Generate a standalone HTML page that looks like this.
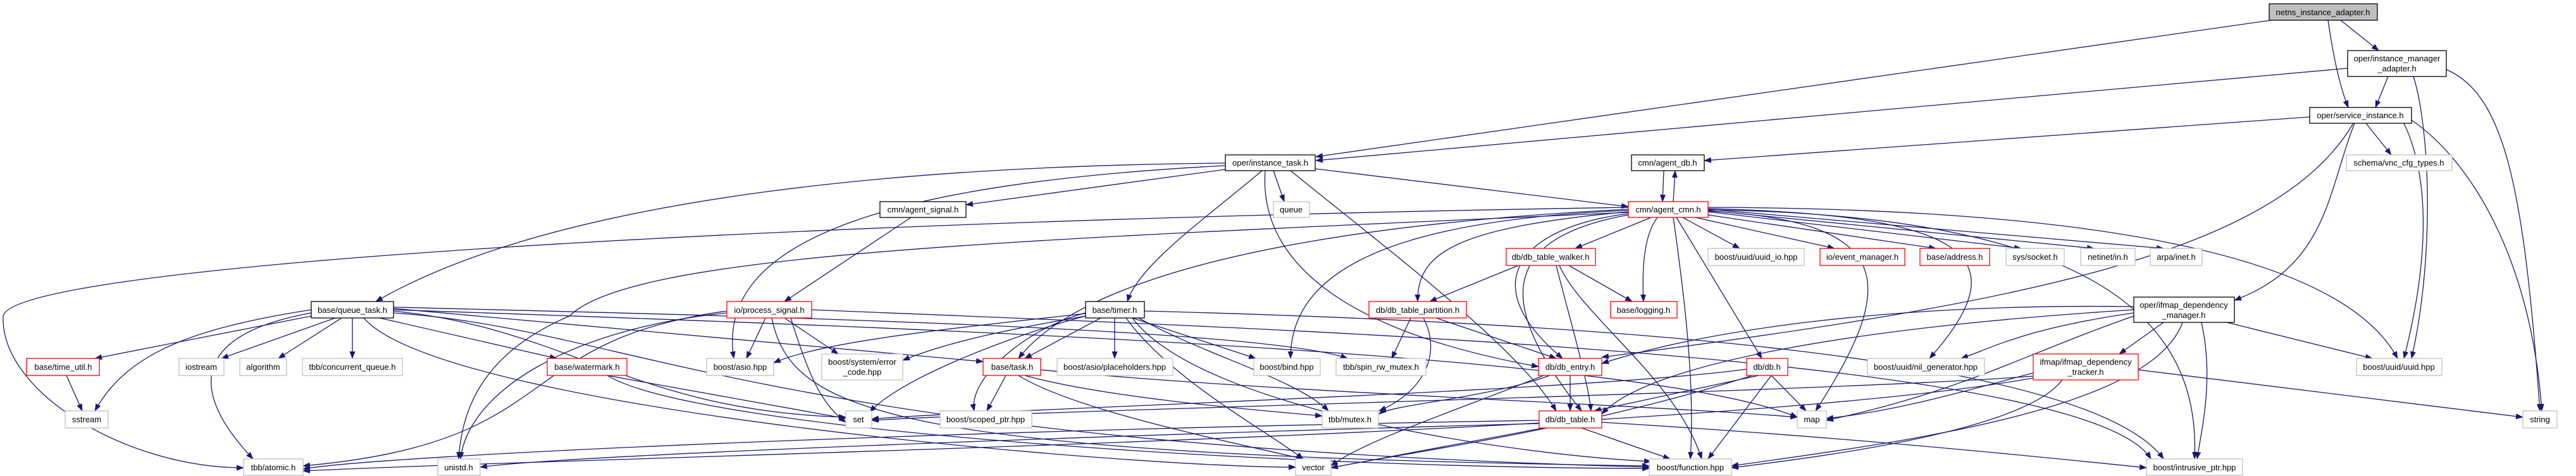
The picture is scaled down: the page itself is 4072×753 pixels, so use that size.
<!DOCTYPE html>
<html><head><meta charset="utf-8"><style>
html,body{margin:0;padding:0;background:#fff;}
svg{display:block;}
text{font-family:"Liberation Sans",Arial,sans-serif;font-size:13px;fill:#000;}
.e{fill:none;stroke:#191970;stroke-width:1.3;marker-end:url(#a);}
.g{fill:#fff;stroke:#bfbfbf;stroke-width:1.3;}
.r{fill:#fff;stroke:#ff0000;stroke-width:1.3;}
.k{fill:#fff;stroke:#000;stroke-width:1.3;}
</style></head><body>
<svg width="4072" height="753" viewBox="0 0 4072 753" xmlns="http://www.w3.org/2000/svg">
<defs><marker id="a" markerWidth="12" markerHeight="9" refX="11" refY="4.5" orient="auto" markerUnits="userSpaceOnUse"><path d="M0 0 L12 4.5 L0 9 Z" fill="#191970"/></marker></defs>
<g>
<path class="e" d="M3590 32 L2080 248"/>
<path class="e" d="M3700 32 L3760 80"/>
<path class="e" d="M3680 32 C3690 100,3700 140,3712 170"/>
<path class="e" d="M3711 108 L2080 254"/>
<path class="e" d="M3775 121 L3755 170"/>
<path class="e" d="M3815 121 C3840 200,3850 400,3812 567"/>
<path class="e" d="M3867 110 C3960 150,3990 300,4015 650"/>
<path class="e" d="M3651 185 L2694 254"/>
<path class="e" d="M3740 195 L3780 245"/>
<path class="e" d="M3722 195 C3680 300,3680 420,3532 475"/>
<path class="e" d="M3720 195 C3600 400,3200 480,2532 565"/>
<path class="e" d="M3800 195 C3850 300,3830 450,3800 567"/>
<path class="e" d="M3812 190 C3900 250,4000 400,4018 650"/>
<path class="e" d="M1937 258 C1500 262,900 300,594 477"/>
<path class="e" d="M1937 268 L1527 324"/>
<path class="e" d="M2013 270 L2030 319"/>
<path class="e" d="M1995 270 C1900 350,1800 420,1782 477"/>
<path class="e" d="M2079 267 L2574 327"/>
<path class="e" d="M1937 262 C1400 290,1130 380,1160 567"/>
<path class="e" d="M2000 270 C1990 400,2100 520,2432 580"/>
<path class="e" d="M2040 270 C2200 400,2400 550,2460 650"/>
<path class="e" d="M1440 344 L1240 477"/>
<path class="e" d="M2630 270 L2628 319"/>
<path class="e" d="M2645 319 L2648 270"/>
<path class="e" d="M2610 344 L2490 393"/>
<path class="e" d="M2660 344 L2750 393"/>
<path class="e" d="M2680 344 L2900 393"/>
<path class="e" d="M2700 340 L3060 393"/>
<path class="e" d="M2700 335 L3195 393"/>
<path class="e" d="M2700 333 L3310 393"/>
<path class="e" d="M2700 331 L3420 393"/>
<path class="e" d="M2620 344 C2600 370,2595 420,2598 477"/>
<path class="e" d="M2574 335 C2300 360,2240 400,2241 477"/>
<path class="e" d="M2574 338 C2400 360,2330 450,2470 567"/>
<path class="e" d="M2650 344 L2785 567"/>
<path class="e" d="M2574 340 C2350 380,2380 500,2500 650"/>
<path class="e" d="M2645 344 C2660 450,2680 600,2672 726"/>
<path class="e" d="M2574 333 C2150 350,2040 450,2040 567"/>
<path class="e" d="M2574 331 C2000 360,1700 450,1610 567"/>
<path class="e" d="M2574 328 C1200 350,20 420,5 500 C0 620,200 740,385 740"/>
<path class="e" d="M2574 336 C1600 380,1000 400,900 500 C760 560,730 650,725 726"/>
<path class="e" d="M2700 328 C3300 330,3700 400,3790 567"/>
<path class="e" d="M2700 332 C3300 340,3480 500,3469 726"/>
<path class="e" d="M2700 330 C3100 340,3200 400,3050 567"/>
<path class="e" d="M2700 334 C3000 350,3000 450,2870 650"/>
<path class="e" d="M492 500 L150 567"/>
<path class="e" d="M492 490 C300 520,200 560,150 650"/>
<path class="e" d="M530 503 L350 567"/>
<path class="e" d="M540 503 L440 567"/>
<path class="e" d="M557 503 L557 567"/>
<path class="e" d="M600 503 L880 567"/>
<path class="e" d="M492 495 C300 530,300 620,400 726"/>
<path class="e" d="M575 503 C700 650,1800 740,2048 739"/>
<path class="e" d="M622 495 C1000 520,1200 700,2607 739"/>
<path class="e" d="M622 492 C900 520,1000 650,1337 660"/>
<path class="e" d="M622 490 C1500 520,2600 560,2841 660"/>
<path class="e" d="M622 488 L1554 572"/>
<path class="e" d="M622 486 C1200 500,2000 520,2130 567"/>
<path class="e" d="M960 594 L1337 662"/>
<path class="e" d="M960 594 C1100 680,2000 740,2607 741"/>
<path class="e" d="M105 594 L130 650"/>
<path class="e" d="M1210 503 L1180 567"/>
<path class="e" d="M1240 503 L1325 560"/>
<path class="e" d="M1149 495 C900 520,740 620,728 726"/>
<path class="e" d="M1149 492 C800 540,900 700,479 737"/>
<path class="e" d="M1220 503 C1250 650,1400 720,2607 737"/>
<path class="e" d="M1250 503 C1280 600,1300 640,1337 668"/>
<path class="e" d="M1283 490 C2000 520,3300 560,3400 726"/>
<path class="e" d="M1740 503 L1620 567"/>
<path class="e" d="M1762 503 L1762 567"/>
<path class="e" d="M1716 496 C1500 520,1300 540,1223 574"/>
<path class="e" d="M1716 500 C1600 520,1500 540,1427 570"/>
<path class="e" d="M1790 503 L1985 567"/>
<path class="e" d="M1800 503 C1900 560,2050 600,2100 650"/>
<path class="e" d="M1716 495 C1620 520,1530 600,1540 650"/>
<path class="e" d="M1790 503 C1900 650,2400 720,2610 730"/>
<path class="e" d="M1780 503 C1850 600,2000 680,2060 726"/>
<path class="e" d="M1716 500 C1600 530,1420 600,1375 652"/>
<path class="e" d="M1809 492 C2500 510,3300 560,3420 726"/>
<path class="e" d="M2230 503 L2200 567"/>
<path class="e" d="M2250 503 C2280 560,2250 620,2180 650"/>
<path class="e" d="M2270 503 L2460 567"/>
<path class="e" d="M2400 420 L2260 477"/>
<path class="e" d="M2480 420 L2580 477"/>
<path class="e" d="M2460 420 C2480 500,2510 600,2515 650"/>
<path class="e" d="M2465 420 C2500 500,2650 600,2690 726"/>
<path class="e" d="M2482 594 L2482 650"/>
<path class="e" d="M2450 594 C2350 630,2200 640,2180 655"/>
<path class="e" d="M2440 594 C2300 650,2150 700,2104 737"/>
<path class="e" d="M2780 594 L2520 650"/>
<path class="e" d="M2800 594 L2855 650"/>
<path class="e" d="M2761 584 C2500 620,1500 650,1378 663"/>
<path class="e" d="M2770 594 C2500 680,2200 720,2104 740"/>
<path class="e" d="M2800 594 L2700 726"/>
<path class="e" d="M2433 665 C1500 680,600 720,479 742"/>
<path class="e" d="M2440 677 L2104 740"/>
<path class="e" d="M2500 677 L2640 726"/>
<path class="e" d="M2532 668 C2900 690,3200 720,3393 740"/>
<path class="e" d="M2433 670 C1700 690,900 720,759 739"/>
<path class="e" d="M1590 594 L1560 650"/>
<path class="e" d="M1620 594 C1750 630,2000 650,2090 658"/>
<path class="e" d="M1610 594 C1700 650,1950 700,2060 726"/>
<path class="e" d="M1645 585 C2000 620,2600 640,2841 660"/>
<path class="e" d="M3420 510 L3350 560"/>
<path class="e" d="M3520 510 L3750 567"/>
<path class="e" d="M3480 510 C3500 600,3480 680,3473 726"/>
<path class="e" d="M3450 510 C3400 650,3000 700,2737 737"/>
<path class="e" d="M3373 500 C3200 560,3100 620,2887 665"/>
<path class="e" d="M3373 495 C3200 520,3150 550,3100 567"/>
<path class="e" d="M3373 485 C3000 480,2700 520,2532 575"/>
<path class="e" d="M3373 490 C2900 520,2600 580,2532 655"/>
<path class="e" d="M3214 590 C3100 620,3000 650,2887 662"/>
<path class="e" d="M3380 585 L3988 660"/>
<path class="e" d="M3260 601 C3200 680,2900 720,2737 740"/>
<path class="e" d="M3214 595 C2900 620,1600 650,1378 665"/>
<path class="e" d="M3214 598 C2700 690,1000 720,479 745"/>
</g>
<g text-anchor="middle">
<rect x="3587" y="6" width="171" height="26" fill="#bfbfbf" stroke="#000" stroke-width="1.3"/><text x="3672" y="24">netns_instance_adapter.h</text>
<rect class="k" x="3711" y="80" width="156" height="41"/><text x="3789" y="97">oper/instance_manager</text><text x="3789" y="113">_adapter.h</text>
<rect class="k" x="3651" y="170" width="161" height="25"/><text x="3731" y="187">oper/service_instance.h</text>
<rect class="k" x="1937" y="245" width="142" height="25"/><text x="2008" y="262">oper/instance_task.h</text>
<rect class="k" x="2579" y="245" width="115" height="25"/><text x="2636" y="262">cmn/agent_db.h</text>
<rect class="g" x="3709" y="245" width="167" height="25"/><text x="3792" y="262">schema/vnc_cfg_types.h</text>
<rect class="k" x="1391" y="319" width="136" height="25"/><text x="1459" y="336">cmn/agent_signal.h</text>
<rect class="g" x="2013" y="319" width="57" height="25"/><text x="2041" y="336">queue</text>
<rect class="r" x="2574" y="319" width="126" height="25"/><text x="2637" y="336">cmn/agent_cmn.h</text>
<rect class="r" x="2381" y="393" width="141" height="27"/><text x="2451" y="411">db/db_table_walker.h</text>
<rect class="g" x="2700" y="393" width="152" height="27"/><text x="2776" y="411">boost/uuid/uuid_io.hpp</text>
<rect class="r" x="2877" y="393" width="134" height="27"/><text x="2944" y="411">io/event_manager.h</text>
<rect class="r" x="3035" y="393" width="110" height="27"/><text x="3090" y="411">base/address.h</text>
<rect class="g" x="3171" y="393" width="92" height="27"/><text x="3217" y="411">sys/socket.h</text>
<rect class="g" x="3289" y="393" width="86" height="27"/><text x="3332" y="411">netinet/in.h</text>
<rect class="g" x="3399" y="393" width="82" height="27"/><text x="3440" y="411">arpa/inet.h</text>
<rect class="k" x="492" y="477" width="130" height="26"/><text x="557" y="495">base/queue_task.h</text>
<rect class="r" x="1149" y="477" width="134" height="26"/><text x="1216" y="495">io/process_signal.h</text>
<rect class="k" x="1716" y="477" width="93" height="26"/><text x="1762" y="495">base/timer.h</text>
<rect class="r" x="2164" y="477" width="154" height="26"/><text x="2241" y="495">db/db_table_partition.h</text>
<rect class="r" x="2546" y="477" width="105" height="26"/><text x="2598" y="495">base/logging.h</text>
<rect class="k" x="3373" y="470" width="159" height="40"/><text x="3452" y="487">oper/ifmap_dependency</text><text x="3452" y="503">_manager.h</text>
<rect class="r" x="42" y="567" width="115" height="27"/><text x="100" y="585">base/time_util.h</text>
<rect class="g" x="283" y="567" width="71" height="27"/><text x="318" y="585">iostream</text>
<rect class="g" x="379" y="567" width="74" height="27"/><text x="416" y="585">algorithm</text>
<rect class="g" x="478" y="567" width="158" height="27"/><text x="557" y="585">tbb/concurrent_queue.h</text>
<rect class="r" x="865" y="567" width="126" height="27"/><text x="928" y="585">base/watermark.h</text>
<rect class="g" x="1117" y="567" width="106" height="27"/><text x="1170" y="585">boost/asio.hpp</text>
<rect class="g" x="1299" y="560" width="128" height="41"/><text x="1363" y="577">boost/system/error</text><text x="1363" y="593">_code.hpp</text>
<rect class="r" x="1554" y="567" width="91" height="27"/><text x="1600" y="585">base/task.h</text>
<rect class="g" x="1671" y="567" width="183" height="27"/><text x="1762" y="585">boost/asio/placeholders.hpp</text>
<rect class="g" x="1982" y="567" width="105" height="27"/><text x="2034" y="585">boost/bind.hpp</text>
<rect class="g" x="2112" y="567" width="142" height="27"/><text x="2183" y="585">tbb/spin_rw_mutex.h</text>
<rect class="r" x="2432" y="567" width="100" height="27"/><text x="2482" y="585">db/db_entry.h</text>
<rect class="r" x="2761" y="567" width="65" height="27"/><text x="2793" y="585">db/db.h</text>
<rect class="g" x="2952" y="567" width="185" height="27"/><text x="3044" y="585">boost/uuid/nil_generator.hpp</text>
<rect class="r" x="3214" y="560" width="166" height="41"/><text x="3297" y="577">ifmap/ifmap_dependency</text><text x="3297" y="593">_tracker.h</text>
<rect class="g" x="3725" y="567" width="135" height="27"/><text x="3792" y="585">boost/uuid/uuid.hpp</text>
<rect class="g" x="103" y="650" width="68" height="27"/><text x="137" y="668">sstream</text>
<rect class="g" x="1337" y="650" width="41" height="27"/><text x="1357" y="668">set</text>
<rect class="g" x="1486" y="650" width="145" height="27"/><text x="1558" y="668">boost/scoped_ptr.hpp</text>
<rect class="g" x="2090" y="650" width="89" height="27"/><text x="2134" y="668">tbb/mutex.h</text>
<rect class="r" x="2433" y="650" width="99" height="27"/><text x="2482" y="668">db/db_table.h</text>
<rect class="g" x="2841" y="650" width="46" height="27"/><text x="2864" y="668">map</text>
<rect class="g" x="3988" y="650" width="54" height="27"/><text x="4015" y="668">string</text>
<rect class="g" x="385" y="726" width="94" height="26"/><text x="432" y="744">tbb/atomic.h</text>
<rect class="g" x="692" y="726" width="67" height="26"/><text x="725" y="744">unistd.h</text>
<rect class="g" x="2048" y="726" width="56" height="26"/><text x="2076" y="744">vector</text>
<rect class="g" x="2607" y="726" width="130" height="26"/><text x="2672" y="744">boost/function.hpp</text>
<rect class="g" x="3393" y="726" width="152" height="26"/><text x="3469" y="744">boost/intrusive_ptr.hpp</text>
</g>
</svg>
</body></html>
